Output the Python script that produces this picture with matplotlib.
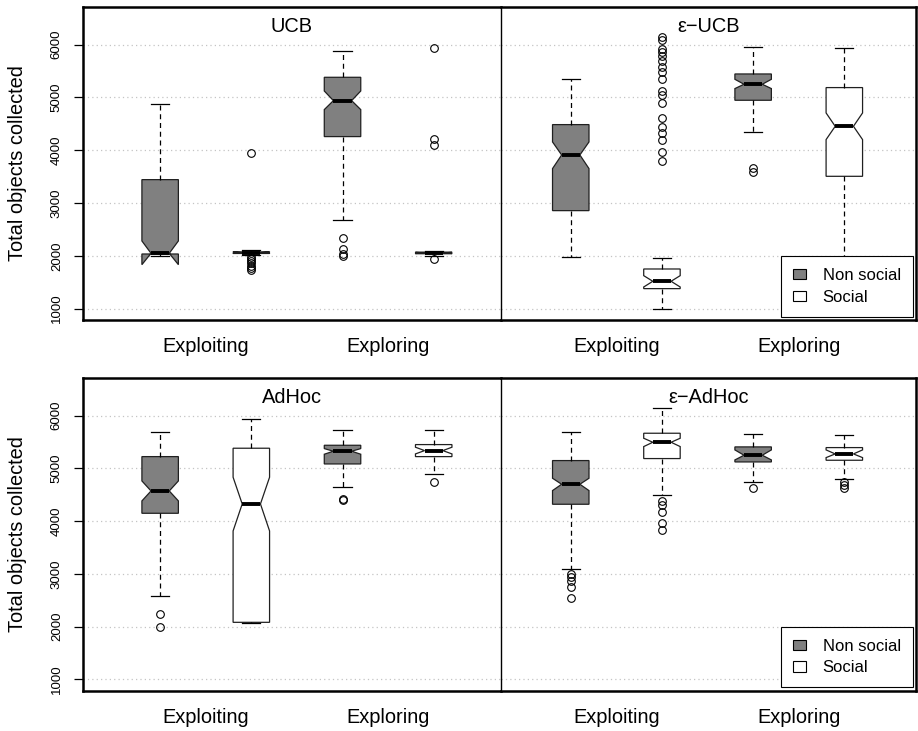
import numpy as np
import matplotlib
matplotlib.use('Agg')
import matplotlib.pyplot as plt
from matplotlib.patches import Patch

plt.rcParams['font.family'] = ['Liberation Sans', 'DejaVu Sans']

# ---------------- data ----------------
PANELS = ['UCB', 'ε−UCB', 'AdHoc', 'ε−AdHoc']
GROUPS = ['Exploiting', 'Exploring']
SERIES = ['Non social', 'Social']
YTICKS = [1000, 2000, 3000, 4000, 5000, 6000]

# each row = one panel, boxes: NS-exploit, S-exploit, NS-explore, S-explore
WHISLO = [[2000, 2010, 2673, 1995],
          [1985, 994, 4346, 1000],
          [2580, 2062, 4647, 4888],
          [3086, 4489, 4748, 4793]]
Q1 = [[2035, 2045, 4258, 2040],
      [2856, 1379, 4946, 3506],
      [4148, 2081, 5083, 5222],
      [4319, 5185, 5121, 5153]]
MED = [[2048, 2060, 4939, 2055],
       [3910, 1518, 5249, 4453],
       [4571, 4325, 5324, 5336],
       [4698, 5494, 5248, 5273]]
Q3 = [[3443, 2075, 5381, 2070],
      [4485, 1751, 5444, 5186],
      [5222, 5381, 5437, 5450],
      [5147, 5665, 5406, 5393]]
WHISHI = [[4876, 2110, 5880, 2100],
          [5356, 1960, 5956, 5937],
          [5690, 5943, 5728, 5728],
          [5684, 6145, 5659, 5633]]
CILO = [[1833, 2050, 4769, 2045],
        [3652, 1410, 5167, 4201],
        [4382, 3813, 5267, 5273],
        [4578, 5412, 5159, 5203]]
CIHI = [[2282, 2070, 5122, 2065],
        [4157, 1625, 5343, 4706],
        [4761, 4831, 5374, 5400],
        [4812, 5570, 5349, 5349]]
FLIERS = [
    [[], [3948, 1975, 1935, 1895, 1855, 1815, 1770, 1725],
     [2345, 2130, 2030, 2005], [1940, 4090, 4210, 5935]],
    [[], [6145, 6095, 5912, 5861, 5792, 5684, 5583, 5482, 5350, 5122,
          5053, 4901, 4611, 4440, 4327, 4188, 3967, 3803],
     [3664, 3588], []],
    [[2245, 1999], [], [4426, 4395], [4742]],
    [[2997, 2947, 2871, 2757, 2549], [4388, 4306, 4180, 3958, 3826],
     [4635], [4742, 4692, 4628]],
]
# -----------------------------------------------------------

FILL = ['#808080', 'white', '#808080', 'white']
W, H = 918, 731

fig = plt.figure(figsize=(W / 100, H / 100), dpi=100)


def px_axes(x0, y0, x1, y1):
    return fig.add_axes([x0 / W, 1 - y1 / H, (x1 - x0) / W, (y1 - y0) / H])


rows = [(7, 320), (378, 690.7)]
cols = [(83, 501, (0.154, 4.738)), (501, 916, (0.235, 4.786))]

for p, title in enumerate(PANELS):
    r, c = divmod(p, 2)
    y0, y1 = rows[r]
    x0, x1, xl = cols[c]
    ax = px_axes(x0, y0, x1, y1)

    stats = []
    for i in range(4):
        stats.append(dict(whislo=WHISLO[p][i], q1=Q1[p][i], med=MED[p][i],
                          q3=Q3[p][i], whishi=WHISHI[p][i],
                          cilo=CILO[p][i], cihi=CIHI[p][i],
                          fliers=FLIERS[p][i]))
    bp = ax.bxp(stats, positions=[1, 2, 3, 4], widths=0.4, shownotches=True,
                patch_artist=True,
                boxprops=dict(edgecolor='#202020', linewidth=0.9),
                medianprops=dict(color='black', linewidth=2.8,
                                 solid_capstyle='butt'),
                whiskerprops=dict(color='black', linewidth=0.9,
                                  linestyle=(0, (4, 3))),
                capprops=dict(color='black', linewidth=0.9),
                flierprops=dict(marker='o', markersize=5.5,
                                markerfacecolor='none',
                                markeredgecolor='black',
                                markeredgewidth=0.8))
    for patch, col in zip(bp['boxes'], FILL):
        patch.set_facecolor(col)

    ax.set_xlim(*xl)
    ax.set_ylim(785, 6712)
    ax.set_yticks(YTICKS)
    ax.yaxis.grid(True, linestyle=(0, (1, 2.5)), color='#c4c4c4',
                  linewidth=0.9)
    ax.set_axisbelow(True)

    ax.set_xticks([1.5, 3.5])
    ax.set_xticklabels(GROUPS, fontsize=14.4)
    ax.tick_params(axis='x', length=0, pad=12.5)

    if c == 0:
        ax.tick_params(axis='y', length=6.5, width=0.9, pad=8,
                       labelsize=9.5, labelrotation=90)
        for lab in ax.get_yticklabels():
            lab.set_va('center')
            lab.set_ha('right')
        ax.spines['right'].set_visible(False)
        ax.spines['left'].set_linewidth(1.8)
        fig.text(17.5 / W, 1 - (y0 + y1) / 2 / H, 'Total objects collected',
                 rotation=90, ha='center', va='center', fontsize=14.4)
    else:
        ax.tick_params(axis='y', left=False, labelleft=False)
        ax.spines['left'].set_linewidth(1.0)
        ax.spines['right'].set_linewidth(1.8)
        handles = [Patch(facecolor=FILL[k], edgecolor='black', linewidth=0.8)
                   for k in range(2)]
        leg = ax.legend(handles, SERIES, loc='lower right',
                        bbox_to_anchor=(0.992, 0.0105), borderaxespad=0,
                        fontsize=12, frameon=True, fancybox=False,
                        edgecolor='black', framealpha=1, borderpad=0.72,
                        handlelength=0.75, handleheight=0.6,
                        handletextpad=1.0, labelspacing=0.4)
        leg.get_frame().set_linewidth(0.8)
    ax.spines['top'].set_linewidth(1.8)
    ax.spines['bottom'].set_linewidth(1.8)

    ax.text(0.5, 0.921, title, transform=ax.transAxes, ha='center',
            va='baseline', fontsize=14.4)

fig.savefig('out.png', dpi=100)
